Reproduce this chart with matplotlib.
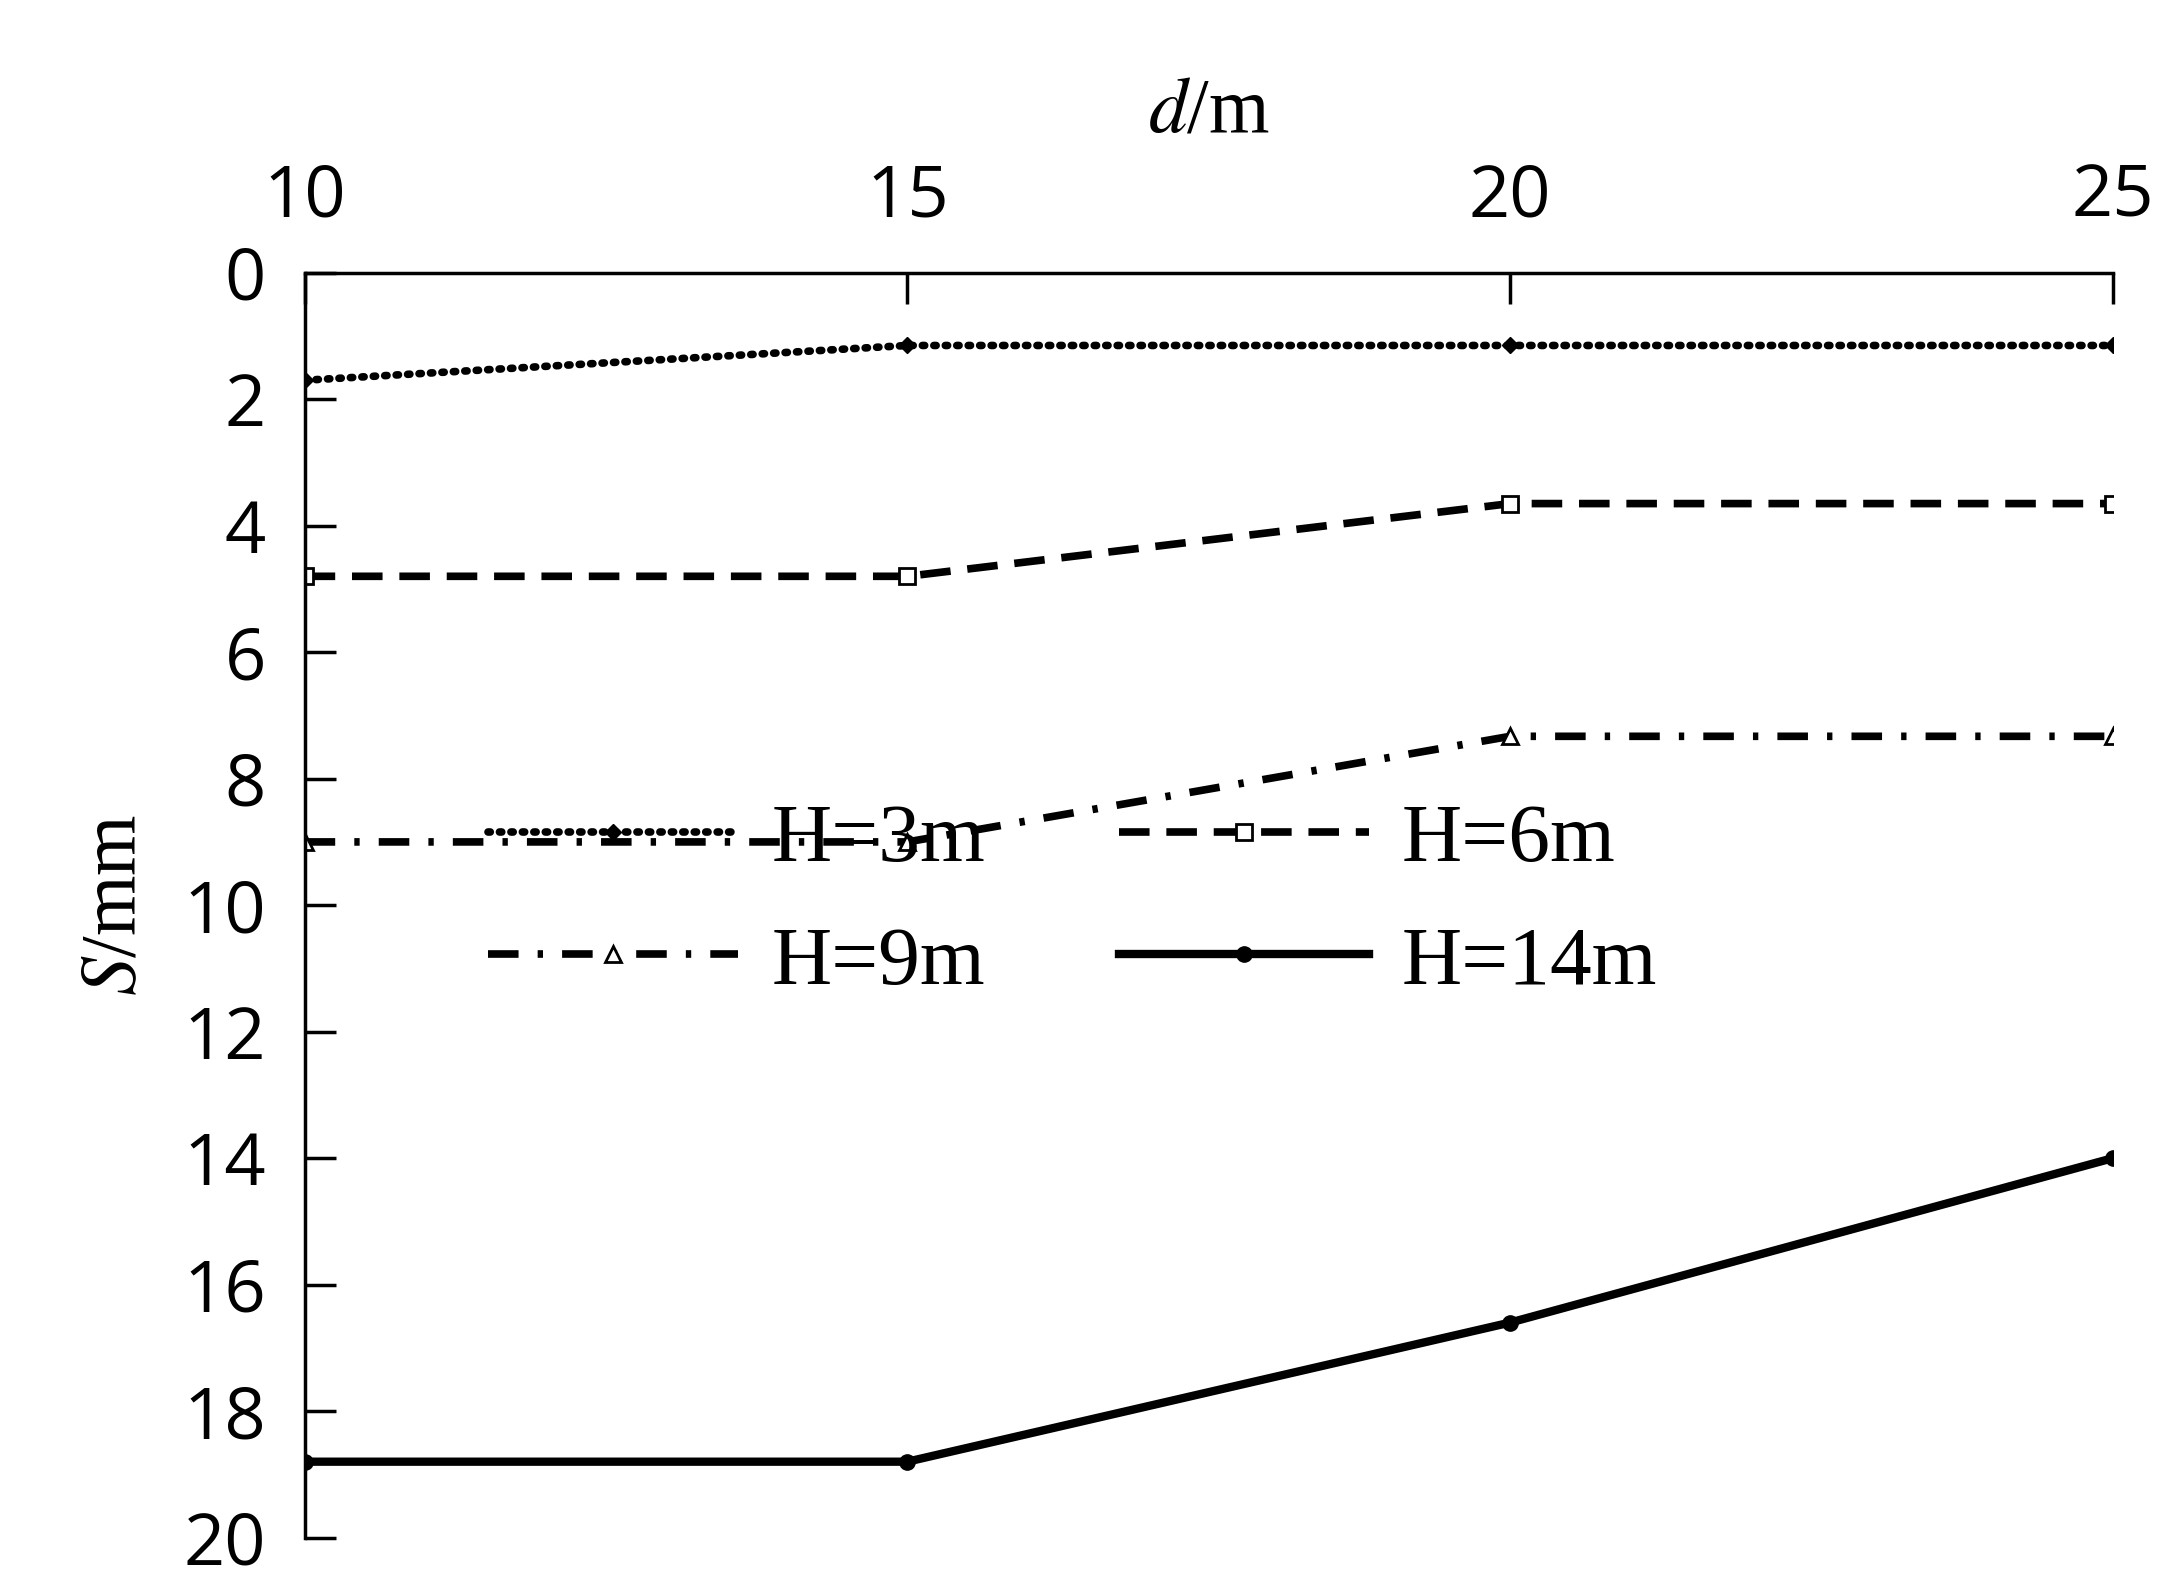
import matplotlib
matplotlib.use('Agg')
import matplotlib.pyplot as plt

# data
d = [10, 15, 20, 25]
s_h3 = [1.7, 1.15, 1.15, 1.15]
s_h6 = [4.8, 4.8, 3.65, 3.65]
s_h9 = [9.0, 9.0, 7.33, 7.33]
s_h14 = [18.8, 18.8, 16.6, 14.0]
labels = ['H=3m', 'H=6m', 'H=9m', 'H=14m']

fig = plt.figure(figsize=(21.76, 15.95), dpi=100)
ax = fig.add_axes([0.140, 0.036, 0.831, 0.793])

lw = 5.5
l3, = ax.plot(d, s_h3, color='black', lw=lw, ls=(0, (0.3, 1.2)), dash_capstyle='round',
              marker='D', ms=8, mfc='black', label=labels[0])
l6, = ax.plot(d, s_h6, color='black', lw=lw, ls=(0, (4, 2.2)),
              marker='s', ms=11, mfc='white', mew=2, label=labels[1])
l9, = ax.plot(d, s_h9, color='black', lw=lw, ls=(0, (4, 2.5, 0.7, 2.5)),
              marker='^', ms=11, mfc='white', mew=2, label=labels[2])
l14, = ax.plot(d, s_h14, color='black', lw=lw + 0.5, ls='-',
               marker='o', ms=11, mfc='black', label=labels[3])

ax.set_xlim(10, 25)
ax.set_ylim(20, 0)
ax.set_xticks(d)
ax.set_yticks(range(0, 21, 2))
ax.xaxis.tick_top()
ax.xaxis.set_label_position('top')
ax.spines['right'].set_visible(False)
ax.spines['bottom'].set_visible(False)
for sp in ('top', 'left'):
    ax.spines[sp].set_linewidth(2.5)
ax.tick_params(direction='in', length=22, width=2.5, labelsize=52, pad=28)
for t in ax.get_xticklabels() + ax.get_yticklabels():
    t.set_family('Open Sans')

ax.set_xlabel(r'$\it{d}$/m', family='Liberation Serif', math_fontfamily='stix',
              fontsize=56, labelpad=22)
ax.set_ylabel(r'$\it{S}$/mm', family='Liberation Serif', math_fontfamily='stix',
              fontsize=56, labelpad=22)

ax.legend([l3, l9, l6, l14], [labels[0], labels[2], labels[1], labels[3]],
          ncol=2, frameon=False, loc='upper left', bbox_to_anchor=(0.06, 0.64),
          prop={'family': 'Liberation Serif', 'size': 60}, handlelength=3.0,
          columnspacing=1.6, labelspacing=0.55, handletextpad=0.4)

fig.savefig('out.png', dpi=100)
